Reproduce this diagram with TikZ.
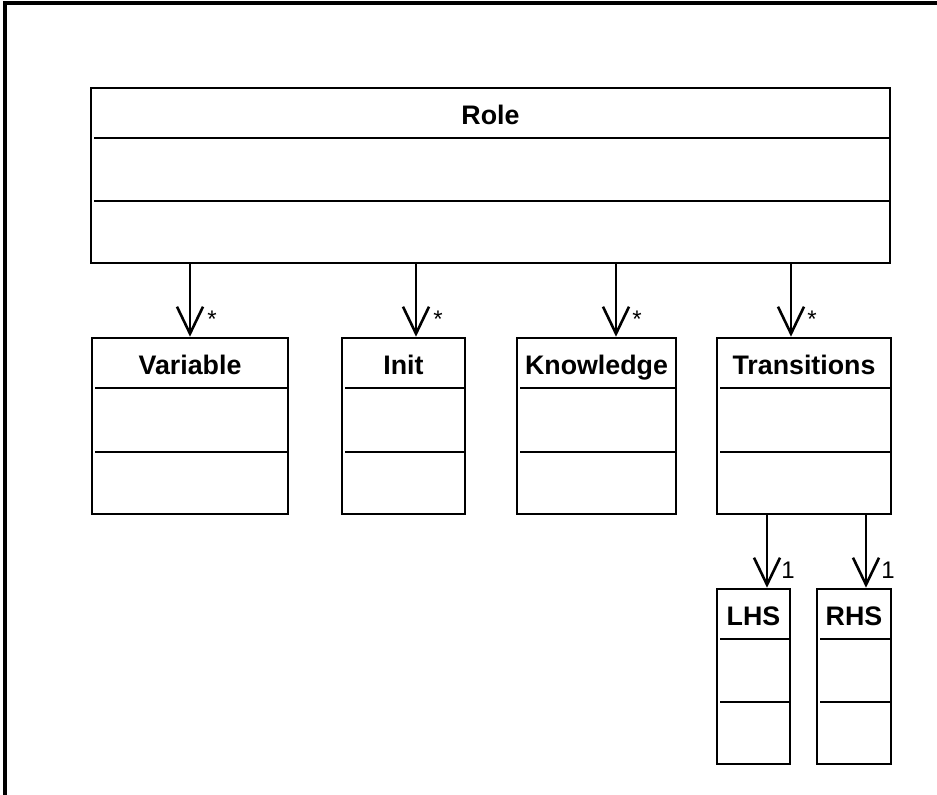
\documentclass[tikz,border=0pt]{standalone}
\usepackage{fontspec}
\setmainfont{Liberation Sans}
\usetikzlibrary{arrows.meta,fit}
\tikzset{
  x=0.5pt, y=-0.5pt,
  classbox/.style={draw, line width=1.3pt, inner sep=0pt},
  classtitle/.style={anchor=base, inner sep=0pt, font=\fontsize{13.4}{16}\selectfont\bfseries},
  divider/.style={line width=1.3pt},
  assoc/.style={line width=1.3pt, -{Straight Barb[length=13.5pt,width=13pt,line width=1.3pt]}},
  mult/.style={anchor=base west, inner sep=0pt, font=\fontsize{12}{14}\selectfont},
  framestyle/.style={line width=2.2pt}
}
% name, left, top, right, bottom, divider1, divider2, title
\newcommand\umlclass[8]{%
  \node[classbox, fit={(#2,#3) (#4,#5)}] (#1) {};
  \node[classtitle] (#1-title) at ({(#2+#4)/2},{(#3+#6)/2+11.5}) {#8};
  \draw[divider] ({#2+3},#6) -- ({#4-1},#6);
  \draw[divider] ({#2+3},#7) -- ({#4-1},#7);
}
\begin{document}
\begin{tikzpicture}
\useasboundingbox (0,0) rectangle (937,794);
% frame
\draw[framestyle] (5,800) -- (5,3) -- (940,3);
% classes
\umlclass{Role}{91}{88}{890}{263}{138}{201}{Role}
\umlclass{Variable}{92}{338}{288}{514}{388}{452}{Variable}
\umlclass{Init}{342}{338}{465}{514}{388}{452}{Init}
\umlclass{Knowledge}{517}{338}{676}{514}{388}{452}{Knowledge}
\umlclass{Transitions}{717}{338}{891}{514}{388}{452}{Transitions}
\umlclass{LHS}{717}{589}{790}{764}{639}{702}{LHS}
\umlclass{RHS}{817}{589}{891}{764}{639}{702}{RHS}
% connector x positions
\coordinate (xVar) at (190,0);
\coordinate (xInit) at (416,0);
\coordinate (xKnow) at (616,0);
\coordinate (xTrans) at (791,0);
\coordinate (xLHS) at (767,0);
\coordinate (xRHS) at (866,0);
% connectors
\draw[assoc] (Role.south -| xVar) -- (Variable.north -| xVar);
\draw[assoc] (Role.south -| xInit) -- (Init.north -| xInit);
\draw[assoc] (Role.south -| xKnow) -- (Knowledge.north -| xKnow);
\draw[assoc] (Role.south -| xTrans) -- (Transitions.north -| xTrans);
\draw[assoc] (Transitions.south -| xLHS) -- (LHS.north -| xLHS);
\draw[assoc] (Transitions.south -| xRHS) -- (RHS.north -| xRHS);
% multiplicities
\node[mult] (mVar) at (207,327) {*};
\node[mult] (mInit) at (433,327) {*};
\node[mult] (mKnow) at (632,327) {*};
\node[mult] (mTrans) at (807,327) {*};
\node[mult] (mLHS) at (781,578) {1};
\node[mult] (mRHS) at (881,578) {1};
\end{tikzpicture}
\end{document}
